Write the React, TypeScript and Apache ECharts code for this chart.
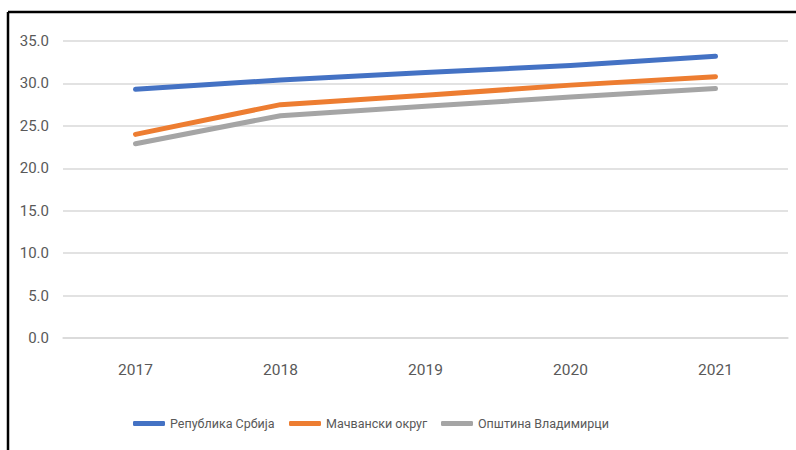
import React, { useEffect, useRef } from "react";
import * as echarts from "echarts";

const categories = ["2017", "2018", "2019", "2020", "2021"];
const seriesNames = ["Република Србија", "Мачвански округ", "Општина Владимирци"];
const serbia = [29.3, 30.4, 31.3, 32.1, 33.2];
const macva = [24.0, 27.5, 28.6, 29.8, 30.8];
const vladimirci = [22.9, 26.2, 27.3, 28.4, 29.4];
const colors = ["#4472C4", "#ED7D31", "#A5A5A5"];
const legendLefts = [128, 284, 436];

const FONT = 'Roboto, "Open Sans", sans-serif';

export default function App() {
  const ref = useRef<HTMLDivElement>(null);
  useEffect(() => {
    if (!ref.current) return;
    const chart = echarts.init(ref.current, undefined, { renderer: "svg" });
    const data = [serbia, macva, vladimirci];
    chart.setOption({
      animation: false,
      backgroundColor: "#ffffff",
      textStyle: { fontFamily: FONT },
      grid: { left: 63, right: 8, top: 41, bottom: 112, containLabel: false },
      xAxis: {
        type: "category",
        data: categories,
        boundaryGap: true,
        axisLine: { show: true, lineStyle: { color: "#d9d9d9", width: 1.5 } },
        axisTick: { show: false },
        axisLabel: { color: "#595959", fontSize: 15.5, margin: 24, fontFamily: FONT },
      },
      yAxis: {
        type: "value",
        min: 0,
        max: 35,
        interval: 5,
        axisLine: { show: false },
        axisTick: { show: false },
        splitLine: { lineStyle: { color: "#d9d9d9", width: 1.5 } },
        axisLabel: {
          color: "#595959",
          fontSize: 15,
          margin: 14,
          fontFamily: FONT,
          formatter: (v: number) => v.toFixed(1),
        },
      },
      legend: seriesNames.map((name, i) => ({
        left: legendLefts[i],
        top: 412,
        itemWidth: 32,
        itemHeight: 5,
        icon: "roundRect",
        textStyle: { color: "#595959", fontSize: 12.5, fontFamily: FONT },
        data: [name],
      })),
      graphic: [
        { type: "line", shape: { x1: 8, y1: 12, x2: 796, y2: 12 }, style: { stroke: "#000", lineWidth: 2.5 } },
        { type: "line", shape: { x1: 8, y1: 12, x2: 8, y2: 450 }, style: { stroke: "#000", lineWidth: 2.5 } },
      ],
      series: seriesNames.map((name, i) => ({
        name,
        type: "line",
        data: data[i],
        symbol: "none",
        color: colors[i],
        lineStyle: { color: colors[i], width: 5, cap: "round", join: "round" },
        itemStyle: { color: colors[i] },
      })),
    });
    return () => chart.dispose();
  }, []);
  return (
    <div
      ref={ref}
      style={{ position: "absolute", left: 0, top: 0, width: 796, height: 450 }}
    />
  );
}
